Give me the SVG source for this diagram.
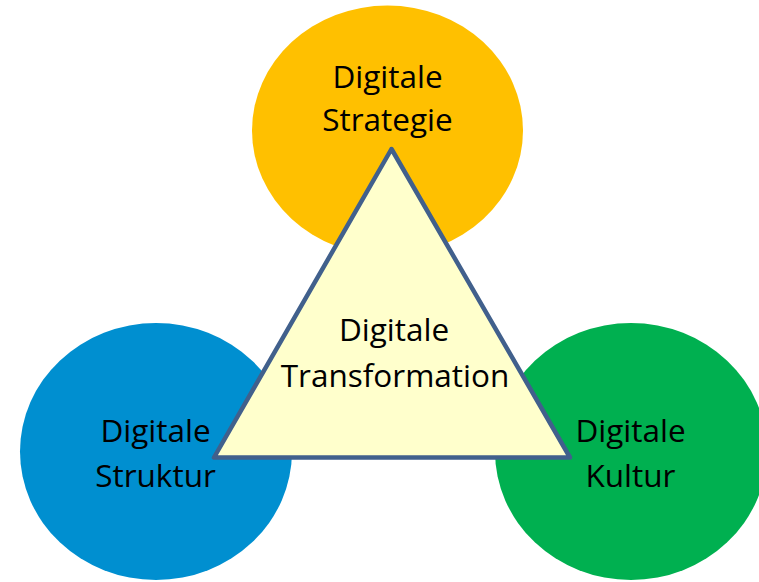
<svg xmlns="http://www.w3.org/2000/svg" width="759" height="582" viewBox="0 0 759 582">
<style>
.lbl{font-family:"Open Sans","Liberation Sans",sans-serif;font-size:31.5px;fill:#000;text-anchor:middle}
</style>
<rect width="759" height="582" fill="#fff"/>
<g id="strategie">
<ellipse cx="387.5" cy="130.5" rx="135.5" ry="125" fill="#FFC000"/>
<text class="lbl" x="387.5" y="88">Digitale</text>
<text class="lbl" x="387.5" y="131">Strategie</text>
</g>
<g id="struktur">
<ellipse cx="156" cy="451.5" rx="136" ry="128.5" fill="#008FD0"/>
</g>
<g id="kultur">
<ellipse cx="631" cy="451.5" rx="136" ry="128.5" fill="#00B050"/>
</g>
<g id="transformation">
<polygon points="391.5,149 214,457.5 570,457.5" fill="#FFFFCC" stroke="#41608C" stroke-width="4.5" stroke-linejoin="round"/>
<text class="lbl" x="394" y="341">Digitale</text>
<text class="lbl" x="395" y="387">Transformation</text>
</g>
<g id="struktur-label">
<text class="lbl" x="155.5" y="442">Digitale</text>
<text class="lbl" x="155.5" y="487">Struktur</text>
</g>
<g id="kultur-label">
<text class="lbl" x="630.5" y="442">Digitale</text>
<text class="lbl" x="630.5" y="487">Kultur</text>
</g>
</svg>
